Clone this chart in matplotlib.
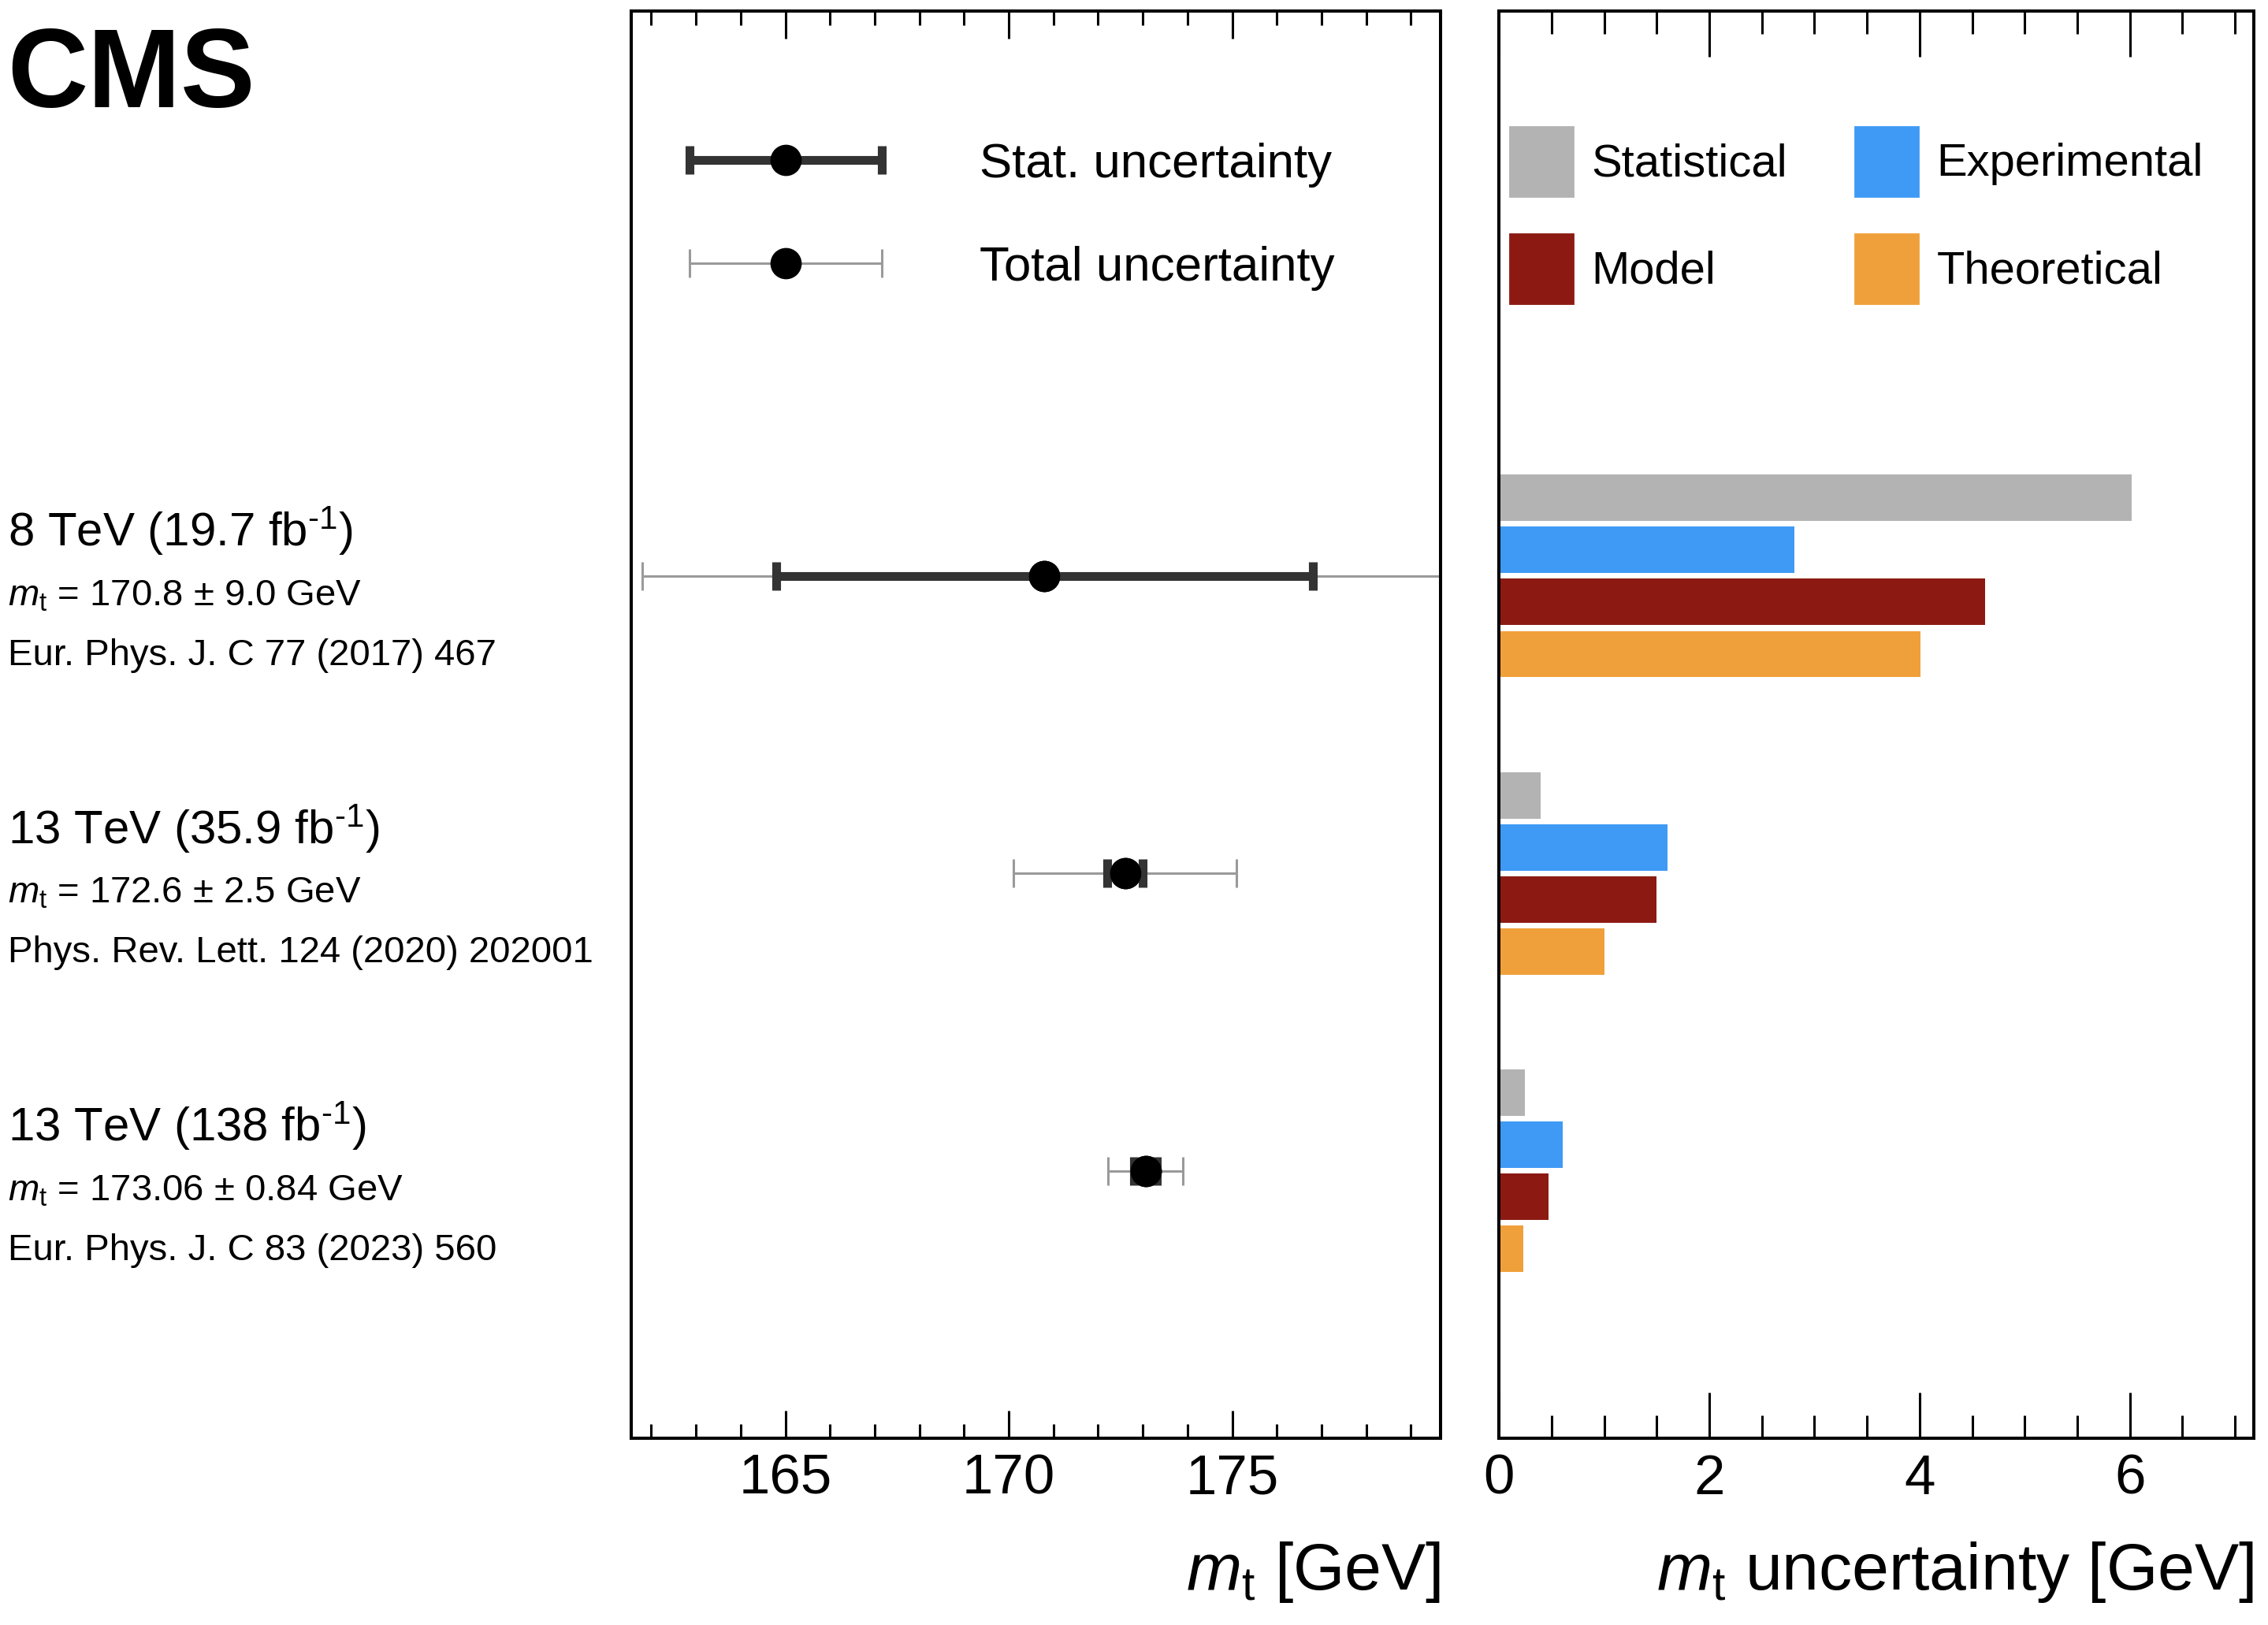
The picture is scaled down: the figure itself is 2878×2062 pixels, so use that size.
import matplotlib
matplotlib.use('Agg')
import numpy as np
import matplotlib.pyplot as plt
from matplotlib.container import ErrorbarContainer
from matplotlib.legend_handler import HandlerErrorbar
from matplotlib.patches import Patch
from matplotlib.ticker import MultipleLocator
from matplotlib.transforms import blended_transform_factory

plt.rcParams['font.family'] = ['Liberation Sans', 'DejaVu Sans']
plt.rcParams['mathtext.fontset'] = 'custom'
plt.rcParams['mathtext.rm'] = 'Liberation Sans'
plt.rcParams['mathtext.it'] = 'Liberation Sans:italic'
plt.rcParams['mathtext.bf'] = 'Liberation Sans:bold'

# measurements, top to bottom
titles = ['8 TeV (19.7 fb$^{\\text{-1}}$)',
          '13 TeV (35.9 fb$^{\\text{-1}}$)',
          '13 TeV (138 fb$^{\\text{-1}}$)']
results = ['$m_{\\mathrm{t}}$ = 170.8 ± 9.0 GeV',
           '$m_{\\mathrm{t}}$ = 172.6 ± 2.5 GeV',
           '$m_{\\mathrm{t}}$ = 173.06 ± 0.84 GeV']
refs = ['Eur. Phys. J. C 77 (2017) 467',
        'Phys. Rev. Lett. 124 (2020) 202001',
        'Eur. Phys. J. C 83 (2023) 560']
mt_value = [170.8, 172.6, 173.06]
stat_unc = [6.0, 0.4, 0.25]
total_unc = [9.0, 2.5, 0.84]

# uncertainty breakdown in GeV
sources = ['Statistical', 'Experimental', 'Model', 'Theoretical']
src_colors = ['#b3b3b3', '#3f9af5', '#8c1a13', '#f0a03a']
unc_statistical = [6.02, 0.40, 0.25]
unc_experimental = [2.81, 1.60, 0.61]
unc_model = [4.62, 1.50, 0.47]
unc_theoretical = [4.01, 1.00, 0.23]
breakdown = [unc_statistical, unc_experimental, unc_model, unc_theoretical]

ypos = np.arange(len(mt_value))

fig = plt.figure(figsize=(14.39, 10.31), dpi=200)
ax1 = fig.add_axes([0.2783, 0.1149, 0.3568, 0.8783])
ax2 = fig.add_axes([0.6609, 0.1149, 0.3329, 0.8783])

# left panel: mass values
tot = ax1.errorbar(mt_value, ypos, xerr=total_unc, fmt='o', color='black', ms=13.3,
                   ecolor='#9a9a9a', elinewidth=1.1, capsize=6.5, capthick=1.1, zorder=2)
sta = ax1.errorbar(mt_value, ypos, xerr=stat_unc, fmt='o', color='black', ms=13.3,
                   ecolor='#333333', elinewidth=4, capsize=6.5, capthick=4, zorder=3)
ax1.set_xlim(161.55, 179.66)
ax1.xaxis.set_major_locator(MultipleLocator(5))
ax1.xaxis.set_minor_locator(MultipleLocator(1))
ax1.tick_params(axis='x', which='major', length=12.6, width=1.1, direction='in',
                top=True, labelsize=25.5, pad=7)
ax1.tick_params(axis='x', which='minor', length=6.5, width=1.1, direction='in', top=True)
ax1.set_xlabel('$m_{\\mathrm{t}}$ [GeV]', fontsize=30.3, loc='right')
ax1.xaxis.set_label_coords(1.0, -0.071)

leg1 = ax1.legend([sta, tot], ['Stat. uncertainty', 'Total uncertainty'],
                  handler_map={ErrorbarContainer: HandlerErrorbar(xerr_size=1.97, numpoints=1)},
                  loc='upper left', bbox_to_anchor=(0.072, 0.908), frameon=False,
                  fontsize=22.3, handlelength=3.95, handletextpad=2.0, labelspacing=1.2,
                  borderpad=0, borderaxespad=0, numpoints=1)

# right panel: breakdown bars
bar_h = 0.156
step = 0.175
for i, (vals, col) in enumerate(zip(breakdown, src_colors)):
    ax2.barh(ypos + (i - 1.5) * step, vals, height=bar_h, color=col, label=sources[i])
ax2.set_xlim(0, 7.18)
ax2.xaxis.set_major_locator(MultipleLocator(2))
ax2.xaxis.set_minor_locator(MultipleLocator(0.5))
ax2.tick_params(axis='x', which='major', length=21, width=1.1, direction='in',
                top=True, labelsize=25.5, pad=7)
ax2.tick_params(axis='x', which='minor', length=10.5, width=1.1, direction='in', top=True)
ax2.set_xlabel('$m_{\\mathrm{t}}$ uncertainty [GeV]', fontsize=30.3, loc='right')
ax2.xaxis.set_label_coords(1.0, -0.071)

handles = [Patch(color=c) for c in src_colors]
order = [0, 2, 1, 3]
ax2.legend([handles[k] for k in order], [sources[k] for k in order], ncol=2,
           loc='upper left', bbox_to_anchor=(0.0146, 0.919), frameon=False,
           fontsize=20.9, handlelength=1.38, handleheight=1.97, handletextpad=0.4,
           columnspacing=1.48, labelspacing=0.82, borderpad=0, borderaxespad=0)

for ax in (ax1, ax2):
    ax.set_ylim(2.9, -1.9)
    ax.set_yticks([])
    for s in ax.spines.values():
        s.set_linewidth(1.45)

# labels on the left of the figure
trans = blended_transform_factory(fig.transFigure, ax1.transData)
for y, t, r, ref in zip(ypos, titles, results, refs):
    ax1.text(0.0035, y - 0.1, t, transform=trans, fontsize=21.6, va='baseline', ha='left')
    ax1.text(0.0035, y + 0.1, r, transform=trans, fontsize=17, va='baseline', ha='left')
    ax1.text(0.0035, y + 0.3, ref, transform=trans, fontsize=17, va='baseline', ha='left')

fig.text(9 / 2878, 1 - 136 / 2062, 'CMS', fontsize=51, fontweight='bold',
         va='baseline', ha='left')

fig.savefig('out.png', dpi=200)
